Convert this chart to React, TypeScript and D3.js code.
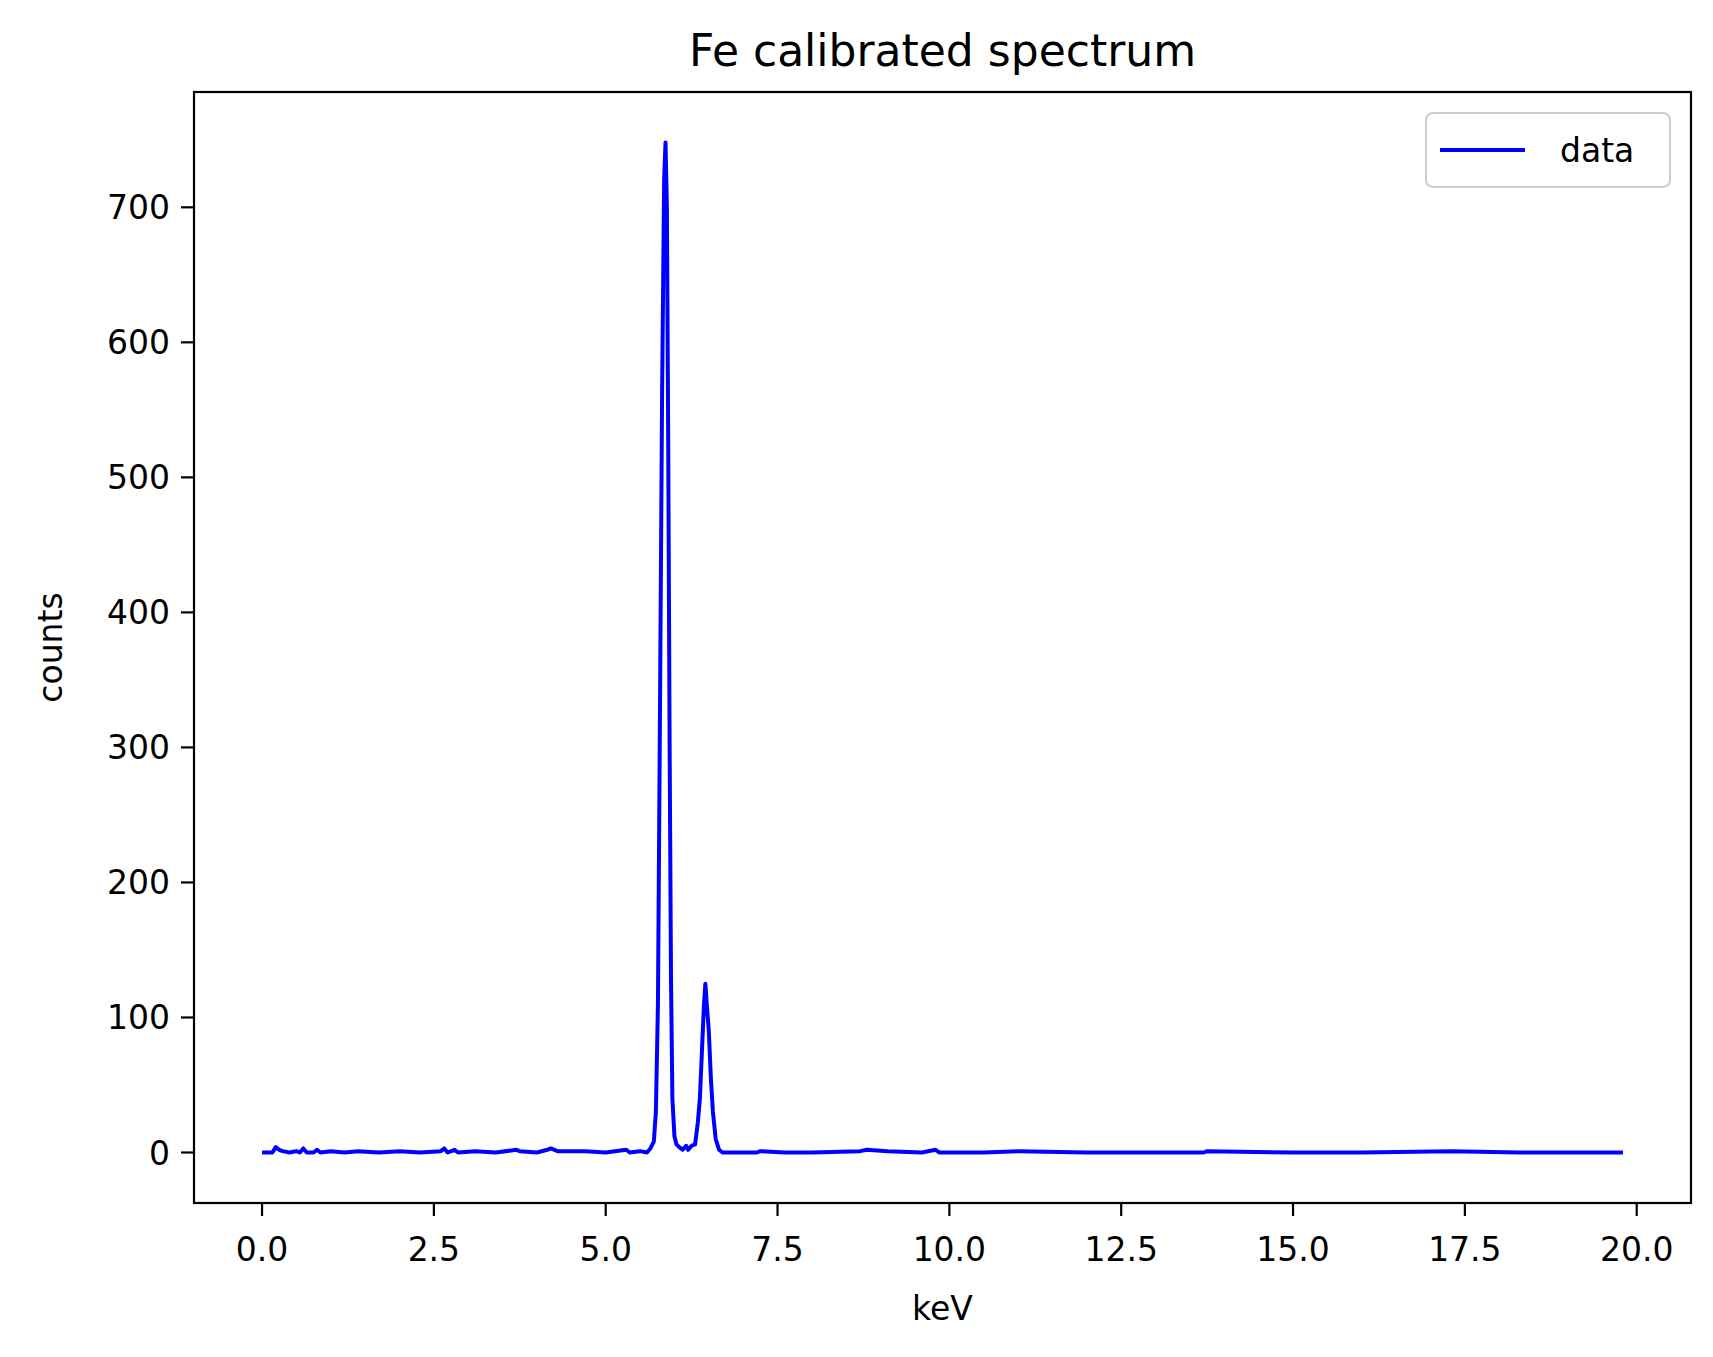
import React from "react";
import * as d3 from "d3";

const title = "Fe calibrated spectrum";
const xLabel = "keV";
const yLabel = "counts";
const seriesName = "data";
const xTicks = [0, 2.5, 5, 7.5, 10, 12.5, 15, 17.5, 20];
const yTicks = [0, 100, 200, 300, 400, 500, 600, 700];
const keV = [0, 0.15, 0.2, 0.25, 0.3, 0.4, 0.5, 0.55, 0.6, 0.65, 0.75, 0.8, 0.85, 1.0, 1.2, 1.4, 1.7, 2.0, 2.3, 2.6, 2.65, 2.7, 2.8, 2.85, 3.1, 3.4, 3.7, 3.75, 4.0, 4.15, 4.2, 4.3, 4.7, 5.0, 5.3, 5.35, 5.5, 5.6, 5.65, 5.7, 5.73, 5.76, 5.79, 5.82, 5.85, 5.87, 5.89, 5.91, 5.93, 5.95, 5.97, 6.0, 6.03, 6.07, 6.12, 6.17, 6.2, 6.25, 6.3, 6.34, 6.37, 6.4, 6.43, 6.45, 6.47, 6.5, 6.53, 6.56, 6.6, 6.65, 6.7, 7.2, 7.25, 7.6, 8.0, 8.7, 8.8, 9.1, 9.6, 9.8, 9.85, 10.5, 11.0, 12.0, 13.7, 13.75, 15.0, 16.0, 17.3, 18.3, 19.5, 19.8];
const counts = [0, 0, 4, 2, 1, 0, 1, 0, 3, 0, 0, 2, 0, 1, 0, 1, 0, 1, 0, 1, 3, 0, 2, 0, 1, 0, 2, 1, 0, 2, 3, 1, 1, 0, 2, 0, 1, 0, 3, 8, 30, 110, 330, 560, 720, 748, 700, 520, 300, 130, 40, 12, 6, 4, 2, 5, 2, 5, 6, 22, 40, 75, 110, 125, 110, 90, 55, 30, 10, 2, 0, 0, 1, 0, 0, 1, 2, 1, 0, 2, 0, 0, 1, 0, 0, 1, 0, 0, 1, 0, 0, 0];

const W = 1713, H = 1357;
const L = 194, R = 1691, T = 92, B = 1203;
const font = "DejaVu Sans";

export default function App() {
  const x = d3.scaleLinear().domain([-0.99, 20.79]).range([L, R]);
  const y = d3.scaleLinear().domain([-37.4, 785.4]).range([B, T]);
  const pts = keV.map((k, i) => [k, counts[i]] as [number, number]);
  const line = d3.line<[number, number]>().x(d => x(d[0])).y(d => y(d[1]));
  return (
    <svg width={W} height={H} style={{ position: "absolute", left: 0, top: 0, background: "#fff" }} fontFamily={font}>
      <rect x={0} y={0} width={W} height={H} fill="#fff" />
      <text x={(L + R) / 2} y={66} textAnchor="middle" fontSize={44}>{title}</text>
      <path d={line(pts) || ""} fill="none" stroke="#0000ff" strokeWidth={4} strokeLinejoin="round" />
      <rect x={L} y={T} width={R - L} height={B - T} fill="none" stroke="#000" strokeWidth={2.2} />
      {xTicks.map(t => (
        <g key={t}>
          <line x1={x(t)} x2={x(t)} y1={B} y2={B + 13} stroke="#000" strokeWidth={2.2} />
          <text x={x(t)} y={B + 58} textAnchor="middle" fontSize={33}>{t.toFixed(1)}</text>
        </g>
      ))}
      {yTicks.map(t => (
        <g key={t}>
          <line x1={L - 13} x2={L} y1={y(t)} y2={y(t)} stroke="#000" strokeWidth={2.2} />
          <text x={L - 24} y={y(t) + 12} textAnchor="end" fontSize={33}>{t}</text>
        </g>
      ))}
      <text x={(L + R) / 2} y={1320} textAnchor="middle" fontSize={33}>{xLabel}</text>
      <text transform={`translate(62,${(T + B) / 2}) rotate(-90)`} textAnchor="middle" fontSize={33}>{yLabel}</text>
      <rect x={1426} y={113} width={244} height={74} rx={7} fill="#fff" stroke="#ccc" strokeWidth={2} />
      <line x1={1440} x2={1525} y1={150} y2={150} stroke="#0000ff" strokeWidth={4} />
      <text x={1560} y={162} fontSize={33}>{seriesName}</text>
    </svg>
  );
}
